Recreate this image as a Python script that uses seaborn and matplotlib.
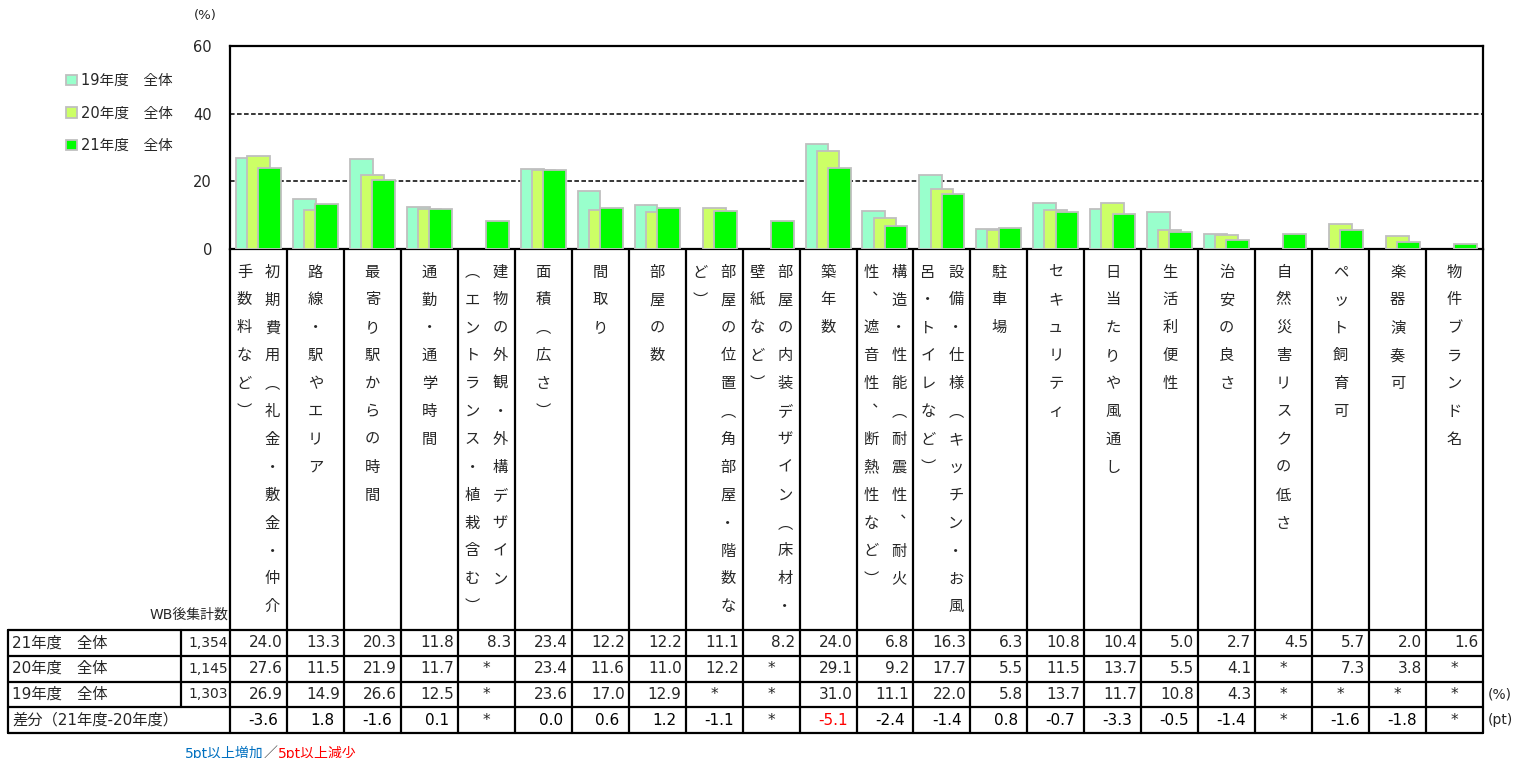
import numpy as np
import pandas as pd
import matplotlib
matplotlib.use("Agg")
import matplotlib.pyplot as plt
from matplotlib.patches import Patch
import seaborn as sns

sns.set_style("white")
plt.rcParams["font.family"] = ["DejaVu Sans", "Noto Sans CJK JP"]

# ─── Data ────────────────────────────────────────────────────────────────────
# each category label as vertical text columns, right column first
LABEL_COLUMNS = [
    ["初期費用（礼金・敷金・仲介", "手数料など）"],
    ["路線・駅やエリア"],
    ["最寄り駅からの時間"],
    ["通勤・通学時間"],
    ["建物の外観・外構デザイン", "（エントランス・植栽含む）"],
    ["面積（広さ）"],
    ["間取り"],
    ["部屋の数"],
    ["部屋の位置（角部屋・階数な", "ど）"],
    ["部屋の内装デザイン（床材・", "壁紙など）"],
    ["築年数"],
    ["構造・性能（耐震性、耐火", "性、遮音性、断熱性など）"],
    ["設備・仕様（キッチン・お風", "呂・トイレなど）"],
    ["駐車場"],
    ["セキュリティ"],
    ["日当たりや風通し"],
    ["生活利便性"],
    ["治安の良さ"],
    ["自然災害リスクの低さ"],
    ["ペット飼育可"],
    ["楽器演奏可"],
    ["物件ブランド名"],
]

SERIES_NAMES = ["19年度　全体", "20年度　全体", "21年度　全体"]
SERIES_N = ["1,303", "1,145", "1,354"]
SERIES_COLORS = ["#99FFCC", "#CCFF66", "#00FF00"]

nan = np.nan
VAL_19 = [26.9, 14.9, 26.6, 12.5, nan, 23.6, 17.0, 12.9, nan, nan, 31.0,
          11.1, 22.0, 5.8, 13.7, 11.7, 10.8, 4.3, nan, nan, nan, nan]
VAL_20 = [27.6, 11.5, 21.9, 11.7, nan, 23.4, 11.6, 11.0, 12.2, nan, 29.1,
          9.2, 17.7, 5.5, 11.5, 13.7, 5.5, 4.1, nan, 7.3, 3.8, nan]
VAL_21 = [24.0, 13.3, 20.3, 11.8, 8.3, 23.4, 12.2, 12.2, 11.1, 8.2, 24.0,
          6.8, 16.3, 6.3, 10.8, 10.4, 5.0, 2.7, 4.5, 5.7, 2.0, 1.6]
DIFF = [-3.6, 1.8, -1.6, 0.1, nan, 0.0, 0.6, 1.2, -1.1, nan, -5.1,
        -2.4, -1.4, 0.8, -0.7, -3.3, -0.5, -1.4, nan, -1.6, -1.8, nan]

# ─── Layout (pixels) ─────────────────────────────────────────────────────────
W, H = 1525, 758
AX_L, AX_R, AX_T, AX_B = 230, 1483, 46, 249
N_CAT = len(LABEL_COLUMNS)
CW = (AX_R - AX_L) / N_CAT
TABLE_TOP = 630
ROW_H = 25.75
VERT = {"（": "\ufe35", "）": "\ufe36", "、": "\ufe11"}
CJK = ["Noto Sans CJK JP", "DejaVu Sans"]


def cx(i):
    return AX_L + (i + 0.5) * CW


fig = plt.figure(figsize=(W / 100, H / 100), dpi=100)
ov = fig.add_axes([0, 0, 1, 1])
ov.set_xlim(0, W)
ov.set_ylim(H, 0)
ov.axis("off")

ax = fig.add_axes([AX_L / W, 1 - AX_B / H, (AX_R - AX_L) / W, (AX_B - AX_T) / H])

# bars: three overlapping series, 19 at the back, 21 in front
offsets = [-0.195, 0.0, 0.195]
for vals, color, off in zip([VAL_19, VAL_20, VAL_21], SERIES_COLORS, offsets):
    df = pd.DataFrame({"pos": np.arange(N_CAT) + off, "value": vals}).dropna()
    sns.barplot(data=df, x="pos", y="value", native_scale=True, orient="x",
                width=0.4, color=color, saturation=1, errorbar=None,
                edgecolor="#BFBFBF", linewidth=1.3, ax=ax, zorder=3)

for yv in (20, 40):
    ax.axhline(yv, color="black", lw=1.1, ls=(0, (3, 1.6)), zorder=1)
ax.set_xlim(-0.5, N_CAT - 0.5)
ax.set_ylim(0, 60)
ax.set_yticks([0, 20, 40, 60])
ax.set_xticks([])
ax.set_xlabel("")
ax.set_ylabel("")
ax.tick_params(axis="y", length=0, pad=13, labelsize=10.5)
for sp in ax.spines.values():
    sp.set_visible(True)
    sp.set_color("black")
    sp.set_linewidth(1.6)

ov.text(205, 15, "(%)", ha="center", va="center", fontsize=9.5)

# legend
handles = [Patch(facecolor=c, edgecolor="#BFBFBF", linewidth=1.3) for c in SERIES_COLORS]
fig.legend(handles, SERIES_NAMES, loc="upper left",
           bbox_to_anchor=(66 / W, 1 - 73 / H), frameon=False, fontsize=10.5,
           handlelength=0.75, handleheight=0.75, handletextpad=0.3,
           labelspacing=1.2, borderpad=0, borderaxespad=0)

# ─── Vertical category labels ────────────────────────────────────────────────
for i, cols in enumerate(LABEL_COLUMNS):
    nc = len(cols)
    for j, col in enumerate(cols):
        x = cx(i) + ((nc - 1) / 2 - j) * 28
        for k, ch in enumerate(col):
            ov.text(x, 272 + k * 27.9, VERT.get(ch, ch), ha="center",
                    va="center", fontsize=11, family=CJK)

ov.text(228, 615, "WB後集計数", ha="right", va="center", fontsize=10)

# ─── Table grid ──────────────────────────────────────────────────────────────
lw = 1.6
for b in range(N_CAT + 1):
    xb = AX_L + b * CW
    ov.plot([xb, xb], [AX_B, TABLE_TOP + 4 * ROW_H], color="black", lw=lw)
rows_y = [TABLE_TOP + r * ROW_H for r in range(5)]
for yy in rows_y:
    ov.plot([8, AX_R], [yy, yy], color="black", lw=lw)
ov.plot([8, 8], [rows_y[0], rows_y[4]], color="black", lw=lw)
ov.plot([181, 181], [rows_y[0], rows_y[3]], color="black", lw=lw)

# rows: 21, 20, 19 from top
table_rows = [(SERIES_NAMES[2], SERIES_N[2], VAL_21),
              (SERIES_NAMES[1], SERIES_N[1], VAL_20),
              (SERIES_NAMES[0], SERIES_N[0], VAL_19)]
for r, (name, n, vals) in enumerate(table_rows):
    yc = rows_y[r] + ROW_H / 2
    ov.text(12, yc, name, ha="left", va="center", fontsize=11)
    ov.text(228, yc, n, ha="right", va="center", fontsize=10)
    for i, v in enumerate(vals):
        if np.isnan(v):
            ov.text(cx(i), yc, "*", ha="center", va="center", fontsize=11)
        else:
            ov.text(AX_L + (i + 1) * CW - 4, yc, f"{v:.1f}", ha="right",
                    va="center", fontsize=11)

yc = rows_y[3] + ROW_H / 2
ov.text(12, yc, "差分（21年度-20年度）", ha="left", va="center", fontsize=11)
for i, v in enumerate(DIFF):
    if np.isnan(v):
        ov.text(cx(i), yc, "*", ha="center", va="center", fontsize=11)
    else:
        color = "#FF0000" if v <= -5 else ("#0070C0" if v >= 5 else "black")
        ov.text(AX_L + (i + 1) * CW - 9, yc, f"{v:.1f}", ha="right",
                va="center", fontsize=11, color=color)

ov.text(1488, rows_y[2] + ROW_H / 2, "(%)", ha="left", va="center", fontsize=10)
ov.text(1488, rows_y[3] + ROW_H / 2, "(pt)", ha="left", va="center", fontsize=10)

# colour key below the table
t1 = ov.text(185, 753, "5pt以上増加", ha="left", va="center", fontsize=10,
             color="#0070C0")
t2 = ov.annotate("／", xycoords=t1, xy=(1, 0.5), va="center", fontsize=10,
                 color="#404040")
ov.annotate("5pt以上減少", xycoords=t2, xy=(1, 0.5), va="center", fontsize=10,
            color="#FF0000")

fig.savefig("out.png", dpi=100)
plt.close(fig)
